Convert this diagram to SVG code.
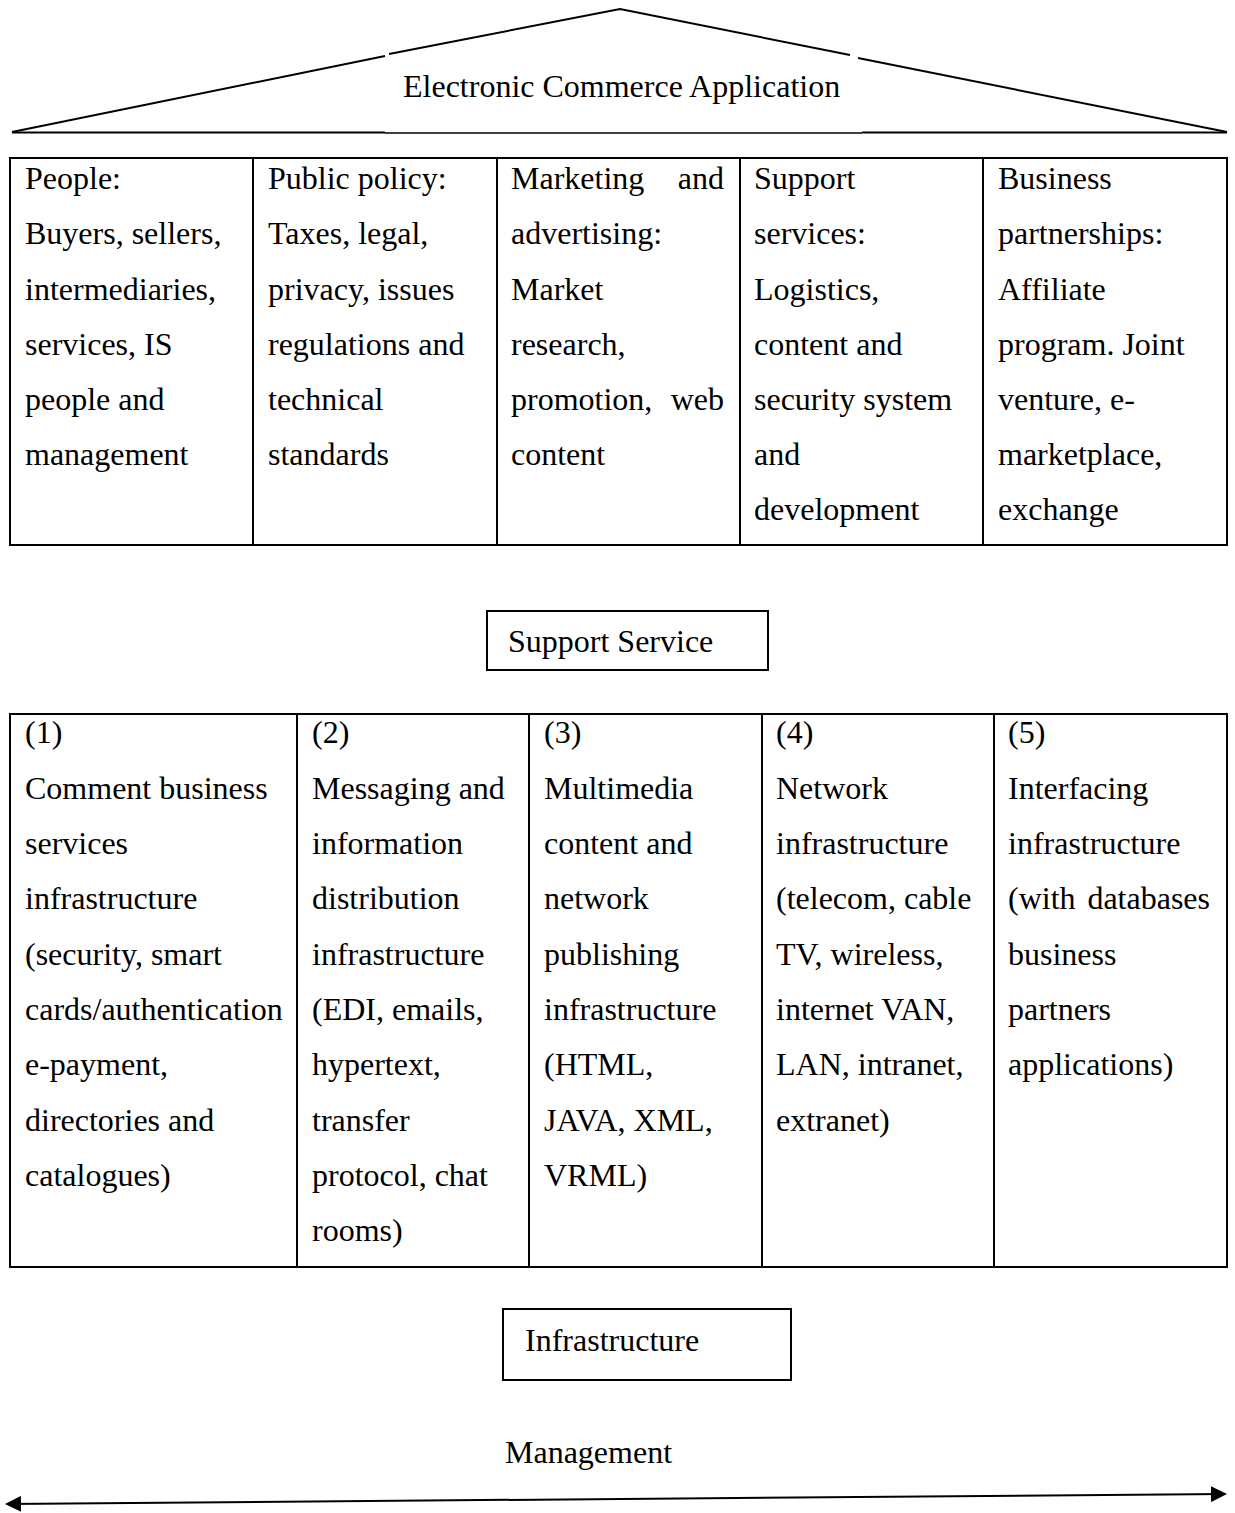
<svg xmlns="http://www.w3.org/2000/svg" width="1235" height="1513" viewBox="0 0 1235 1513">
<style>
text{font-family:"Liberation Serif","Times New Roman",serif;font-size:32px;fill:#000}
.ln{stroke:#000;stroke-width:2;fill:none}
.box{stroke:#000;stroke-width:2;fill:#fff}
.thin{stroke:#000;stroke-width:1.5;fill:none}
</style>
<defs>
<marker id="ah" markerWidth="8" markerHeight="8" refX="7" refY="4" orient="auto-start-reverse" markerUnits="strokeWidth">
<path d="M0,0 L8,4 L0,8 Z" fill="#000"/>
</marker>
</defs>
<rect width="1235" height="1513" fill="#fff"/>

<g id="ec-application">
<path class="ln" d="M12,132 L385,56"/>
<path class="ln" d="M389,54 L620,9 L850,55"/>
<path class="ln" d="M858,58 L1227,132"/>
<path class="ln" d="M12,132.5 L385,132.5"/>
<path class="thin" d="M385,133 L862,133"/>
<path class="ln" d="M862,132.5 L1227,132.5"/>
<text x="403" y="97">Electronic Commerce Application</text>
</g>

<g id="application-table">
<rect class="ln" x="10" y="158" width="1217" height="387"/>
<path class="ln" d="M253,158V545M497,158V545M740,158V545M983,158V545"/>
</g>
<g id="app-people">
<text x="25" y="189">People:</text>
<text x="25" y="244">Buyers, sellers,</text>
<text x="25" y="300">intermediaries,</text>
<text x="25" y="355">services, IS</text>
<text x="25" y="410">people and</text>
<text x="25" y="465">management</text>
</g>
<g id="app-policy">
<text x="268" y="189">Public policy:</text>
<text x="268" y="244">Taxes, legal,</text>
<text x="268" y="300">privacy, issues</text>
<text x="268" y="355">regulations and</text>
<text x="268" y="410">technical</text>
<text x="268" y="465">standards</text>
</g>
<g id="app-marketing">
<text x="511" y="189">Marketing</text>
<text x="724" y="189" text-anchor="end">and</text>
<text x="511" y="244">advertising:</text>
<text x="511" y="300">Market</text>
<text x="511" y="355">research,</text>
<text x="511" y="410">promotion,</text>
<text x="724" y="410" text-anchor="end">web</text>
<text x="511" y="465">content</text>
</g>
<g id="app-support">
<text x="754" y="189">Support</text>
<text x="754" y="244">services:</text>
<text x="754" y="300">Logistics,</text>
<text x="754" y="355">content and</text>
<text x="754" y="410">security system</text>
<text x="754" y="465">and</text>
<text x="754" y="520">development</text>
</g>
<g id="app-business">
<text x="998" y="189">Business</text>
<text x="998" y="244">partnerships:</text>
<text x="998" y="300">Affiliate</text>
<text x="998" y="355">program. Joint</text>
<text x="998" y="410">venture, e-</text>
<text x="998" y="465">marketplace,</text>
<text x="998" y="520">exchange</text>
</g>

<g id="support-service">
<rect class="box" x="487" y="611" width="281" height="59"/>
<text x="508" y="652">Support Service</text>
</g>

<g id="infra-table">
<rect class="ln" x="10" y="714" width="1217" height="553"/>
<path class="ln" d="M297,714V1267M529,714V1267M762,714V1267M994,714V1267"/>
</g>
<g id="infra-1">
<text x="25" y="743">(1)</text>
<text x="25" y="799">Comment business</text>
<text x="25" y="854">services</text>
<text x="25" y="909">infrastructure</text>
<text x="25" y="965">(security, smart</text>
<text x="25" y="1020">cards/authentication</text>
<text x="25" y="1075">e-payment,</text>
<text x="25" y="1131">directories and</text>
<text x="25" y="1186">catalogues)</text>
</g>
<g id="infra-2">
<text x="312" y="743">(2)</text>
<text x="312" y="799">Messaging and</text>
<text x="312" y="854">information</text>
<text x="312" y="909">distribution</text>
<text x="312" y="965">infrastructure</text>
<text x="312" y="1020">(EDI, emails,</text>
<text x="312" y="1075">hypertext,</text>
<text x="312" y="1131">transfer</text>
<text x="312" y="1186">protocol, chat</text>
<text x="312" y="1241">rooms)</text>
</g>
<g id="infra-3">
<text x="544" y="743">(3)</text>
<text x="544" y="799">Multimedia</text>
<text x="544" y="854">content and</text>
<text x="544" y="909">network</text>
<text x="544" y="965">publishing</text>
<text x="544" y="1020">infrastructure</text>
<text x="544" y="1075">(HTML,</text>
<text x="544" y="1131">JAVA, XML,</text>
<text x="544" y="1186">VRML)</text>
</g>
<g id="infra-4">
<text x="776" y="743">(4)</text>
<text x="776" y="799">Network</text>
<text x="776" y="854">infrastructure</text>
<text x="776" y="909">(telecom, cable</text>
<text x="776" y="965">TV, wireless,</text>
<text x="776" y="1020">internet VAN,</text>
<text x="776" y="1075">LAN, intranet,</text>
<text x="776" y="1131">extranet)</text>
</g>
<g id="infra-5">
<text x="1008" y="743">(5)</text>
<text x="1008" y="799">Interfacing</text>
<text x="1008" y="854">infrastructure</text>
<text x="1008" y="909">(with</text>
<text x="1210" y="909" text-anchor="end">databases</text>
<text x="1008" y="965">business</text>
<text x="1008" y="1020">partners</text>
<text x="1008" y="1075">applications)</text>
</g>

<g id="infrastructure">
<rect class="box" x="503" y="1309" width="288" height="71"/>
<text x="525" y="1351">Infrastructure</text>
</g>

<g id="management">
<text x="505" y="1463">Management</text>
</g>

<g id="connectors">
<path class="ln" d="M7,1504 L1225,1494" marker-start="url(#ah)" marker-end="url(#ah)"/>
</g>
</svg>
